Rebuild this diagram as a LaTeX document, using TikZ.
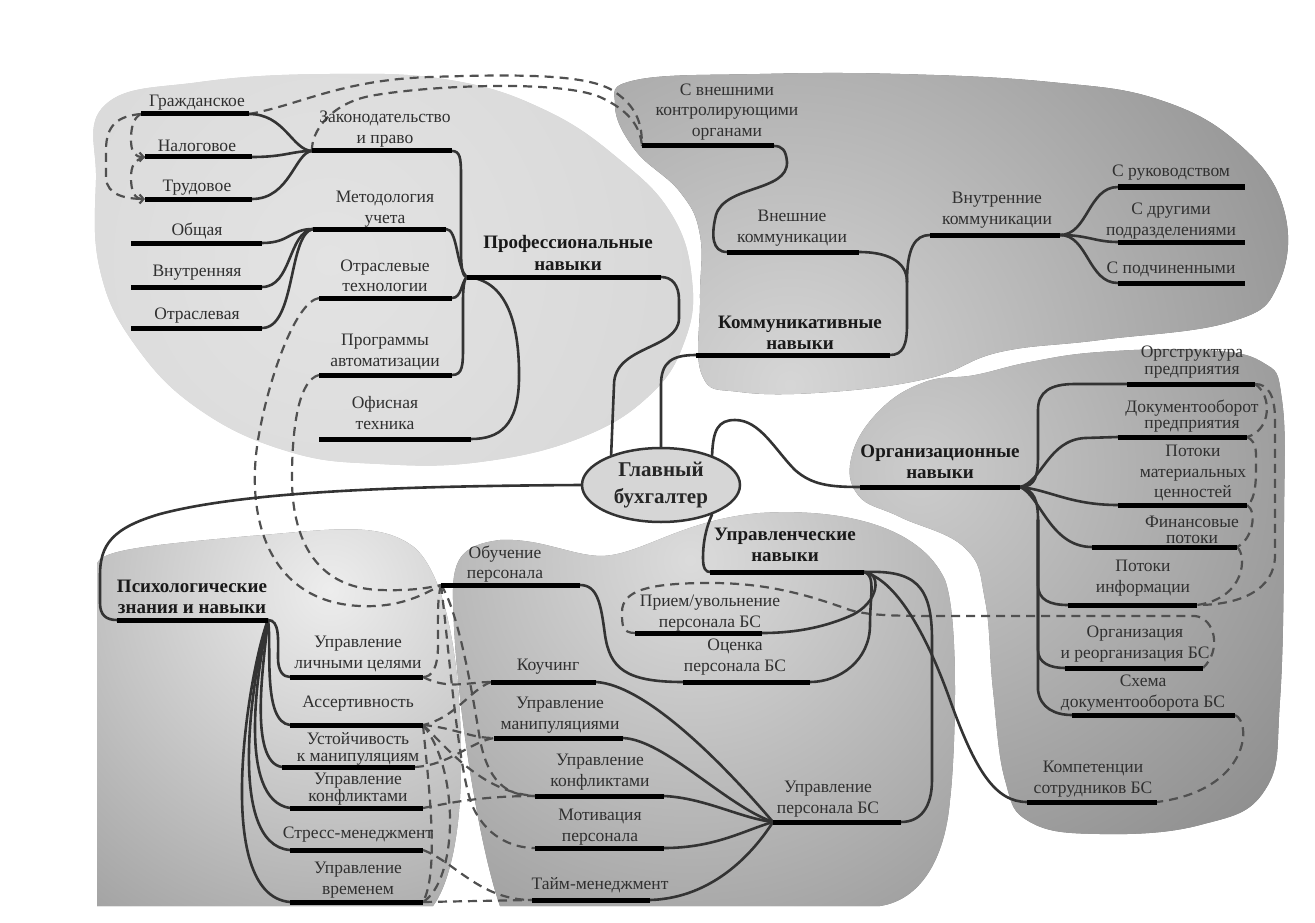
\documentclass[tikz,border=0pt]{standalone}
\usepackage{fontspec}
\setmainfont{Liberation Serif}
\usetikzlibrary{shapes.geometric,arrows.meta}
\definecolor{labc}{HTML}{303030}
\definecolor{conc}{HTML}{333333}
\definecolor{dshc}{HTML}{505050}
\definecolor{ellc}{HTML}{D6D6D6}
\pgfdeclarelayer{bg}
\pgfdeclarelayer{lines}
\pgfsetlayers{bg,lines,main}
\newcommand\mmitem[8][]{%
  \coordinate (#2L) at (#3,#5);
  \coordinate (#2R) at (#4,#5);
  \node[lab,#1] (#2) at (#6,#7) {#8};
}
\begin{document}
\begin{tikzpicture}[x=1pt,y=-1pt,
  lab/.style={font=\fontsize{17.5}{20.5}\selectfont, text=labc, align=center, inner sep=0pt},
  tight/.style={font=\fontsize{17.5}{16.5}\selectfont},
  blab/.style={font=\fontsize{19}{21}\selectfont\bfseries, text=black!90},
  con/.style={draw=conc, line width=2.6pt, line cap=round},
  dsh/.style={draw=dshc, line width=2.2pt, dash pattern=on 9pt off 6pt},
  bar/.style={draw=black, line width=5pt},
  chev/.style={-{Straight Barb[length=4pt,width=9pt]}}]
\useasboundingbox (0,0) rectangle (1315,923);
\begin{pgfonlayer}{bg}
\fill[white] (0,0) rectangle (1315,923);
% professional blob
\begin{scope}
\clip plot[smooth cycle, tension=0.7] coordinates {(105,105) (200,82) (330,74) (450,80) (545,110) (620,160) (672,215) (692,280) (685,340) (650,395) (580,438) (480,462) (380,464) (290,452) (200,410) (135,345) (100,270) (96,180)};
\fill[black!18] (0,0) rectangle (1315,923);
\shade[inner color=black!11, outer color=black!18] (330,260) circle (600pt);
\end{scope}
% communication blob
\begin{scope}
\clip plot[smooth cycle, tension=0.7] coordinates {(636,80) (760,74) (900,74) (1050,82) (1160,100) (1240,145) (1284,210) (1278,285) (1230,322) (1100,340) (1000,352) (930,378) (830,392) (740,392) (702,375) (700,300) (700,235) (680,192) (635,150) (615,105)};
\fill[black!58] (0,0) rectangle (1315,923);
\shade[inner color=black!16, outer color=black!58] (790,385) circle (900pt);
\end{scope}
% organisational blob
\begin{scope}
\clip plot[smooth cycle, tension=0.7] coordinates {(975,375) (1030,362) (1100,352) (1200,350) (1262,362) (1282,400) (1284,520) (1280,700) (1265,790) (1200,825) (1100,834) (1030,822) (1005,780) (993,690) (985,600) (965,548) (900,517) (858,495) (852,455) (880,410) (925,382)};
\fill[black!52] (0,0) rectangle (1315,923);
\shade[inner color=black!20, outer color=black!52] (920,470) circle (640pt);
\end{scope}
% psychological blob
\begin{scope}
\clip (97,906) -- (97,565) .. controls (97,550) and (150,545) .. (250,536) .. controls (330,530) and (380,520) .. (415,548) .. controls (450,580) and (462,680) .. (461,770) .. controls (460,850) and (445,890) .. (433,906) -- cycle;
\fill[black!48] (0,0) rectangle (1315,923);
\shade[inner color=black!7, outer color=black!48] (330,590) circle (560pt);
\end{scope}
% managerial blob
\begin{scope}
\clip (500,906) .. controls (480,850) and (455,700) .. (453,600) .. controls (452,560) and (460,545) .. (500,540) .. controls (540,538) and (570,555) .. (600,556) .. controls (640,556) and (680,520) .. (760,513) .. controls (840,508) and (920,525) .. (945,580) .. controls (960,620) and (955,760) .. (950,800) .. controls (945,860) and (920,900) .. (880,906) -- cycle;
\fill[black!50] (0,0) rectangle (1315,923);
\shade[inner color=black!14, outer color=black!50] (690,560) circle (640pt);
\end{scope}
\end{pgfonlayer}

% ---------- items ----------
\mmitem{grazh}{141}{249}{114}{197}{103}{Гражданское}
\mmitem{nalog}{145}{252}{157}{197}{146}{Налоговое}
\mmitem{trud}{145}{252}{199}{197}{188}{Трудовое}
\mmitem{zakon}{312}{452}{151}{385}{129}{Законодательство\\и право}
\mmitem{metod}{313}{446}{229}{385}{209}{Методология\\учета}
\mmitem{obsh}{131}{262}{243}{197}{231}{Общая}
\mmitem{vnutr}{131}{262}{287}{197}{273}{Внутренняя}
\mmitem{otrasl}{131}{262}{328}{197}{316}{Отраслевая}
\mmitem{otech}{319}{452}{298}{385}{276}{Отраслевые\\технологии}
\mmitem{progr}{319}{452}{375}{385}{352}{Программы\\автоматизации}
\mmitem{ofis}{319}{471}{439}{385}{413}{Офисная\\техника}
\mmitem[blab]{prof}{467}{661}{277}{568}{253}{Профессиональные\\навыки}

\mmitem[blab]{kommun}{696}{890}{355}{800}{333}{Коммуникативные\\навыки}
\mmitem{vnesh}{727}{859}{252}{792}{228}{Внешние\\коммуникации}
\mmitem{skontr}{642}{774}{146}{727}{112}{С внешними\\контролирующими\\органами}
\mmitem{vnutk}{930}{1060}{235}{997}{210}{Внутренние\\коммуникации}
\mmitem{srukov}{1118}{1245}{187}{1171}{173}{С руководством}
\mmitem{sdrug}{1118}{1245}{242}{1171}{221}{С другими\\подразделениями}
\mmitem{spodch}{1118}{1245}{283}{1171}{269}{С подчиненными}

\mmitem[blab]{org}{860}{1020}{487}{940}{462}{Организационные\\навыки}
\mmitem[tight]{orgstr}{1127}{1255}{384}{1192}{362}{Оргструктура\\предприятия}
\mmitem[tight]{docob}{1118}{1247}{437}{1192}{416}{Документооборот\\предприятия}
\mmitem{potmat}{1118}{1247}{505}{1193}{473}{Потоки\\материальных\\ценностей}
\mmitem[tight]{fin}{1092}{1237}{547}{1192}{530}{Финансовые\\потоки}
\mmitem{potinf}{1068}{1197}{605}{1143}{578}{Потоки\\информации}
\mmitem{orgre}{1065}{1203}{668}{1135}{644}{Организация\\и реорганизация БС}
\mmitem{shema}{1072}{1235}{715}{1143}{693}{Схема\\документооборота БС}
\mmitem{komp}{1027}{1157}{802}{1093}{779}{Компетенции\\сотрудников БС}

\mmitem[blab]{upr}{710}{864}{572}{785}{545}{Управленческие\\навыки}
\mmitem{obuch}{441}{580}{585}{505}{564}{Обучение\\персонала}
\mmitem{priem}{635}{762}{633}{710}{613}{Прием/увольнение\\персонала БС}
\mmitem{ocenk}{683}{810}{682}{735}{657}{Оценка\\персонала БС}
\mmitem{kouch}{491}{596}{682}{548}{667}{Коучинг}
\mmitem{umanip}{494}{623}{738}{560}{715}{Управление\\манипуляциями}
\mmitem{ukonf}{535}{664}{796}{600}{772}{Управление\\конфликтами}
\mmitem{motiv}{535}{664}{848}{600}{827}{Мотивация\\персонала}
\mmitem{taim}{532}{650}{900}{600}{885}{Тайм-менеджмент}
\mmitem{uperson}{773}{901}{822}{828}{799}{Управление\\персонала БС}

\mmitem[blab]{psych}{117}{268}{620}{192}{597}{Психологические\\знания и навыки}
\mmitem{lich}{290}{423}{677}{358}{654}{Управление\\личными целями}
\mmitem{assert}{290}{423}{725}{358}{704}{Ассертивность}
\mmitem[tight]{ustoi}{282}{415}{767}{358}{749}{Устойчивость\\к манипуляциям}
\mmitem[tight]{pkonf}{290}{423}{808}{358}{789}{Управление\\конфликтами}
\mmitem{stress}{290}{423}{850}{358}{835}{Стресс-менеджмент}
\mmitem{uvrem}{290}{423}{902}{358}{880}{Управление\\временем}

\node[ellipse, draw=conc, line width=2.5pt, fill=ellc, minimum width=158pt, minimum height=74pt, inner sep=0pt, align=center, font=\fontsize{21}{27}\selectfont\bfseries, text=black!85] (gb) at (661,485) {Главный\\бухгалтер};

\coordinate (kj) at (907,282);
\coordinate (oj) at (1038,520);

\begin{pgfonlayer}{lines}
% ---------- dashed links ----------
\draw[dsh] (grazhL) .. controls (118,116) and (106,125) .. (106,150) -- (106,178) .. controls (107,195) and (125,199) .. (trudL);
\draw[dsh,chev] (grazhL) .. controls (133,118) and (131,128) .. (131,140) .. controls (131,152) and (135,157) .. (nalogL);
\draw[dsh,chev] (nalogL) .. controls (134,160) and (131,166) .. (131,178) .. controls (131,192) and (135,199) .. (trudL);
\draw[dsh] (grazhR) .. controls (300,105) and (340,80) .. (430,77) .. controls (520,74) and (590,74) .. (615,92) .. controls (638,108) and (642,125) .. (skontrL);
\draw[dsh] (zakonL) .. controls (311,132) and (330,104) .. (370,96) .. controls (430,85) and (560,80) .. (600,97) .. controls (628,110) and (640,125) .. (skontrL);
\draw[dsh] (otechL) .. controls (295,302) and (268,380) .. (258,440) .. controls (245,520) and (270,602) .. (360,606) .. controls (400,608) and (425,594) .. (obuchL);
\draw[dsh] (progrL) .. controls (300,380) and (293,420) .. (292,470) .. controls (290,545) and (320,588) .. (380,590) .. controls (410,591) and (428,588) .. (obuchL);
\draw[dsh] (obuchL) .. controls (437,600) and (438,620) .. (438,645) .. controls (438,668) and (432,677) .. (lichR);
\draw[dsh] (obuchL) .. controls (458,610) and (472,690) .. (480,740) .. controls (488,780) and (505,796) .. (ukonfL);
\draw[dsh] (obuchL) .. controls (448,640) and (458,770) .. (472,805) .. controls (485,835) and (510,848) .. (motivL);
\draw[dsh] (lichR) .. controls (448,690) and (468,682) .. (kouchL);
\draw[dsh] (kouchL) .. controls (470,690) and (455,718) .. (assertR);
\draw[dsh] (assertR) .. controls (455,728) and (470,738) .. (umanipL);
\draw[dsh] (ustoiR) .. controls (450,765) and (470,742) .. (umanipL);
\draw[dsh] (assertR) .. controls (445,745) and (480,792) .. (ukonfL);
\draw[dsh] (pkonfR) .. controls (450,803) and (480,796) .. (ukonfL);
\draw[dsh] (stressR) .. controls (455,862) and (480,900) .. (taimL);
\draw[dsh] (uvremR) -- (taimL);
\draw[dsh] (assertR) .. controls (428,780) and (440,870) .. (uvremR);
\draw[dsh] (assertR) .. controls (460,770) and (458,880) .. (uvremR);
\draw[dsh] (priemL) .. controls (622,633) and (622,625) .. (622,612) .. controls (622,590) and (650,584) .. (700,583) .. controls (760,582) and (800,592) .. (850,610) .. controls (870,616) and (900,616) .. (950,616) -- (1195,616) .. controls (1215,618) and (1222,650) .. (orgreR);
\draw[dsh] (orgstrR) .. controls (1268,384) and (1275,395) .. (1275,420) -- (1275,555) .. controls (1275,590) and (1240,605) .. (potinfR);
\draw[dsh] (orgstrR) .. controls (1272,395) and (1272,430) .. (docobR);
\draw[dsh] (docobR) .. controls (1258,442) and (1256,455) .. (1256,470) .. controls (1256,490) and (1253,502) .. (potmatR);
\draw[dsh] (potmatR) .. controls (1258,512) and (1252,540) .. (finR);
\draw[dsh] (finR) .. controls (1247,555) and (1246,598) .. (potinfR);
\draw[dsh] (shemaR) .. controls (1252,722) and (1250,790) .. (kompR);

% ---------- solid connectors ----------
% professional
\draw[con] (grazhR) .. controls (285,114) and (292,150) .. (zakonL);
\draw[con] (nalogR) .. controls (285,157) and (292,151) .. (zakonL);
\draw[con] (trudR) .. controls (290,199) and (295,152) .. (zakonL);
\draw[con] (zakonR) .. controls (460,151) and (461,158) .. (461,175) -- (461,250) .. controls (461,270) and (463,277) .. (profL);
\draw[con] (metodR) .. controls (458,229) and (456,268) .. (profL);
\draw[con] (otechR) .. controls (462,298) and (461,282) .. (profL);
\draw[con] (progrR) .. controls (463,375) and (463,365) .. (463,345) -- (463,300) .. controls (463,285) and (465,277) .. (profL);
\draw[con] (profL) .. controls (505,280) and (520,320) .. (519,380) .. controls (518,425) and (500,439) .. (ofisR);
\draw[con] (obshR) .. controls (290,243) and (290,229) .. (metodL);
\draw[con] (vnutrR) .. controls (292,287) and (288,232) .. (metodL);
\draw[con] (otraslR) .. controls (296,328) and (288,234) .. (metodL);
% centre
\draw[con] (profR) .. controls (672,277) and (679,285) .. (679,300) -- (679,318) .. controls (679,350) and (614,345) .. (614,385) -- (gb.149);
\draw[con] (gb.north) -- (661,385) .. controls (661,362) and (672,355) .. (kommunL);
\draw[con] (gb.30) .. controls (713,430) and (718,420) .. (735,420) .. controls (760,420) and (775,450) .. (795,470) .. controls (812,485) and (830,487) .. (orgL);
\draw[con] (gb.west) .. controls (420,486) and (250,490) .. (160,514) .. controls (112,528) and (100,545) .. (100,575) -- (100,603) .. controls (100,615) and (106,620) .. (psychL);
\draw[con] (gb.-30) .. controls (705,530) and (703,545) .. (703,558) .. controls (703,569) and (706,572) .. (uprL);
% communication
\draw[con] (kommunR) .. controls (903,355) and (907,345) .. (907,325) -- (kj);
\draw[con] (kj) .. controls (907,260) and (885,252) .. (vneshR);
\draw[con] (kj) .. controls (907,248) and (915,235) .. (vnutkL);
\draw[con] (vneshL) .. controls (712,252) and (711,235) .. (716,215) .. controls (725,185) and (788,192) .. (787,162) .. controls (786,150) and (782,146) .. (skontrR);
\draw[con] (vnutkR) .. controls (1088,235) and (1088,187) .. (srukovL);
\draw[con] (vnutkR) .. controls (1088,235) and (1095,242) .. (sdrugL);
\draw[con] (vnutkR) .. controls (1088,235) and (1088,283) .. (spodchL);
% organisational
\draw[con] (orgR) .. controls (1036,487) and (1038,475) .. (1038,455) -- (1038,410) .. controls (1038,392) and (1050,384) .. (1075,384) -- (orgstrL);
\draw[con] (orgR) .. controls (1042,482) and (1048,440) .. (1085,438) -- (docobL);
\draw[con] (orgR) .. controls (1050,490) and (1070,505) .. (potmatL);
\draw[con] (orgR) .. controls (1040,495) and (1050,547) .. (finL);
\draw[con] (orgR) .. controls (1034,490) and (1038,500) .. (oj);
\draw[con] (oj) -- (1038,585) .. controls (1038,600) and (1050,605) .. (potinfL);
\draw[con] (oj) -- (1038,650) .. controls (1038,663) and (1050,668) .. (orgreL);
\draw[con] (oj) -- (1038,690) .. controls (1040,708) and (1055,715) .. (shemaL);
% managerial
\draw[con] (uprR) .. controls (882,572) and (880,603) .. (850,616) .. controls (820,629) and (790,633) .. (priemR);
\draw[con] (uprR) .. controls (876,575) and (870,595) .. (870,625) .. controls (870,660) and (840,682) .. (ocenkR);
\draw[con] (obuchR) .. controls (598,585) and (601,605) .. (605,635) .. controls (610,668) and (625,682) .. (ocenkL);
\draw[con] (uprR) .. controls (915,570) and (932,585) .. (932,640) -- (932,780) .. controls (932,808) and (920,822) .. (upersonR);
\draw[con] (uprR) .. controls (895,580) and (925,630) .. (950,700) .. controls (975,770) and (995,802) .. (kompL);
\draw[con] (kouchR) .. controls (645,685) and (720,760) .. (upersonL);
\draw[con] (umanipR) .. controls (665,740) and (725,805) .. (upersonL);
\draw[con] (ukonfR) .. controls (705,798) and (740,818) .. (upersonL);
\draw[con] (motivR) .. controls (715,848) and (745,830) .. (upersonL);
\draw[con] (taimR) .. controls (715,898) and (755,850) .. (upersonL);
% psychological
\draw[con] (psychR) .. controls (280,620) and (278,640) .. (278,658) .. controls (278,671) and (283,677) .. (lichL);
\draw[con] (psychR) .. controls (272,645) and (262,722) .. (assertL);
\draw[con] (psychR) .. controls (264,660) and (248,762) .. (ustoiL);
\draw[con] (psychR) .. controls (258,665) and (236,800) .. (pkonfL);
\draw[con] (psychR) .. controls (254,665) and (224,845) .. (stressL);
\draw[con] (psychR) .. controls (250,665) and (210,895) .. (uvremL);

% ---------- bars ----------
\foreach \n in {grazh,nalog,trud,zakon,metod,obsh,vnutr,otrasl,otech,progr,ofis,prof,
  kommun,vnesh,skontr,vnutk,srukov,sdrug,spodch,
  org,orgstr,docob,potmat,fin,potinf,orgre,shema,komp,
  upr,obuch,priem,ocenk,kouch,umanip,ukonf,motiv,taim,uperson,
  psych,lich,assert,ustoi,pkonf,stress,uvrem}
  {\draw[bar] (\n L) -- (\n R);}
\end{pgfonlayer}
\end{tikzpicture}
\end{document}
